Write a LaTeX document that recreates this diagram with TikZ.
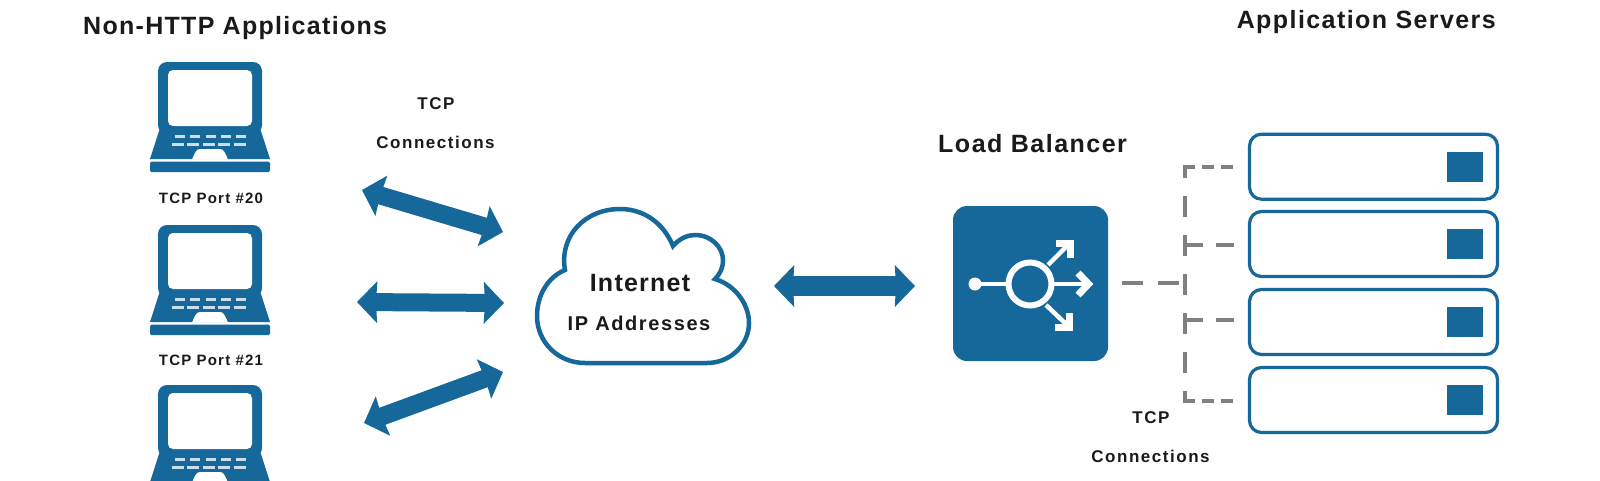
\documentclass[tikz,border=0pt]{standalone}
\usepackage{fontspec}
\setmainfont{Liberation Sans}
\usetikzlibrary{arrows.meta}
\definecolor{lbblue}{HTML}{156899}
\definecolor{lbgray}{HTML}{808080}
\definecolor{lbtext}{HTML}{1A1A1A}
\newcommand{\lsp}[1]{\addfontfeature{LetterSpace=#1}}
\tikzset{
  lbl/.style={inner sep=0pt,text=lbtext},
  bigtxt/.style={lbl,font=\bfseries\fontsize{25}{27}\selectfont\lsp{#1}},
  bigtxt/.default=5,
  midtxt/.style={lbl,font=\bfseries\fontsize{17}{19}\selectfont\lsp{9}},
  smalltxt/.style={lbl,font=\bfseries\fontsize{15}{17}\selectfont\lsp{8}},
  dbl/.style={draw=lbblue,line width=#1,{Stealth[inset=1pt,length=20pt,width=41pt,fill=lbblue]}-{Stealth[inset=1pt,length=20pt,width=41pt,fill=lbblue]}},
  dbl/.default=18pt,
  srv/.style={draw=lbblue,line width=3.2pt,rounded corners=12pt,minimum width=248pt,minimum height=65pt,inner sep=0pt,fill=white},
  led/.style={fill=lbblue,minimum width=36pt,minimum height=30pt,inner sep=0pt},
  dsh/.style={draw=lbgray,line width=4pt},
  laptop/.pic={
    \fill[lbblue,rounded corners=9pt] (-52,0) -- (52,0) -- (52,72) -- (-52,72) -- cycle;
    \fill[lbblue] (-50,66) -- (50,66) -- (60,97) -- (-60,97) -- cycle;
    \fill[lbblue,rounded corners=1.5pt] (-60,99.5) rectangle (60,110);
    \fill[white,rounded corners=5pt] (-42,8) rectangle (42,64);
    \foreach \i in {0,...,4}{
      \fill[white!78!lbblue] (-35+\i*15.3,72.5) rectangle ++(10,3.5);
      \fill[white!78!lbblue] (-38+\i*15.4,80.5) rectangle ++(12,3.5);
    }
    \fill[white] (-18,97.5) .. controls (-15,91) and (-14,87) .. (-10,87) -- (10,87) .. controls (14,87) and (15,91) .. (18,97.5) -- cycle;
  }
}
\begin{document}
\begin{tikzpicture}[x=1pt,y=-1pt]
\useasboundingbox (0,0) rectangle (1600,480);
\fill[white] (0,0) rectangle (1600,480);
% titles
\node[bigtxt=5.2,anchor=west] (t1) at (83,28.5) {Non-HTTP Applications};
\node[bigtxt=5.7,anchor=east] (t2) at (1496,22.5) {Application Servers};
\node[bigtxt=6,anchor=west] (t3) at (938,144) {Load Balancer};
% laptops
\pic at (210,62) {laptop};
\pic at (210,225) {laptop};
\pic at (210,385) {laptop};
\node[smalltxt] (p1) at (211,198) {TCP Port \#20};
\node[smalltxt] (p2) at (211,360) {TCP Port \#21};
\node[midtxt] (c1) at (436,104) {TCP};
\node[midtxt] (c2) at (435.5,142.5) {Connections};
% arrows
\coordinate (a1l) at (362,190);
\coordinate (a1r) at (503,232);
\coordinate (a2l) at (357,302);
\coordinate (a2r) at (504,303);
\coordinate (a3l) at (364,423);
\coordinate (a3r) at (503,372);
\coordinate (a4l) at (774,286);
\coordinate (a4r) at (915,286);
\draw[dbl] (a1l) -- (a1r);
\draw[dbl] (a2l) -- (a2r);
\draw[dbl] (a3l) -- (a3r);
\draw[dbl=20pt] (a4l) -- (a4r);
% cloud
\draw[lbblue,line width=4.5pt,fill=white,line join=miter]
  (585,363) .. controls (558,363) and (537,342) .. (537,316)
  .. controls (537,295) and (548,277) .. (565,270)
  .. controls (559,236) and (585,209) .. (620,209)
  .. controls (643,209) and (663,222) .. (673,246)
  .. controls (680,238) and (688,235) .. (695,235)
  .. controls (712,235) and (723,248) .. (723,260)
  .. controls (723,268) and (720,274) .. (715,279)
  .. controls (735,285) and (749,304) .. (749,323)
  .. controls (749,345) and (730,363) .. (707,363) -- cycle;
\node[bigtxt] (cl1) at (640,283) {Internet};
\node[lbl,font=\bfseries\fontsize{20}{22}\selectfont\lsp{8}] (cl2) at (639,323) {IP Addresses};
% load balancer
\node[fill=lbblue,rounded corners=14pt,minimum width=155pt,minimum height=155pt,inner sep=0pt] (lb) at (1030.5,283.5) {};
\begin{scope}[white,line width=4.5pt]
\coordinate (hub) at (1030,284);
\draw[line width=6pt] (hub) circle (21.5);
\fill (975,284) circle (6.5);
\draw (975,284) -- (1006,284);
\draw (1054,284) -- (1086,284);
\draw[line width=7pt,miter limit=10] (1078,273) -- (1088.5,284) -- (1078,295);
\draw (1048,265) -- (1068,245);
\draw[line width=7pt] (1056,243.5) -- (1070.5,243.5) -- (1070.5,258);
\draw (1046,305) -- (1067,325);
\draw[line width=7pt] (1055,327) -- (1069.5,327) -- (1069.5,312.5);
\end{scope}
% servers
\node[srv] (s1) at (1373.5,166.7) {};
\node[srv] (s2) at (1373.5,244) {};
\node[srv] (s3) at (1373.5,322) {};
\node[srv] (s4) at (1373.5,400) {};
\node[led] (l1) at (1464.5,167) {};
\node[led] (l2) at (1464.5,244) {};
\node[led] (l3) at (1464.5,322) {};
\node[led] (l4) at (1464.5,400) {};
% dashes
\coordinate (jt) at (1185,167);
\coordinate (jb) at (1185,401);
\coordinate (j2) at (1185,245);
\coordinate (j3) at (1185,320);
\coordinate (jl) at (1122,283);
\coordinate (jr) at (1180,283);
\coordinate (e1) at (1235,167);
\coordinate (e2) at (1234,245);
\coordinate (e3) at (1234,320);
\coordinate (e4) at (1235,401);
\draw[dsh,dash pattern=on 21pt off 18pt,dash phase=10pt] (jt) -- (jb);
\draw[dsh,dash pattern=on 12pt off 7pt] ([xshift=-2pt]jt) -- (e1);
\draw[dsh,dash pattern=on 12pt off 7pt] ([xshift=-2pt]jb) -- (e4);
\draw[dsh,dash pattern=on 18pt off 13pt] (j2) -- (e2);
\draw[dsh,dash pattern=on 18pt off 13pt] (j3) -- (e3);
\draw[dsh,dash pattern=on 21pt off 15pt] (jl) -- (jr);
\node[midtxt] (c3) at (1151,418) {TCP};
\node[midtxt] (c4) at (1150.5,456.5) {Connections};
\end{tikzpicture}
\end{document}
